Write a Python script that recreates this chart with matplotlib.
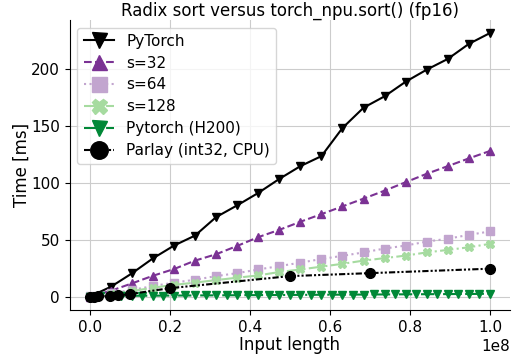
import numpy as np
import matplotlib
matplotlib.use("Agg")
import matplotlib.pyplot as plt

# input sizes
n_main = np.linspace(0, 1e8, 20)
n_h200 = np.linspace(0, 1e8, 39)
n_parlay = [1e5, 1e6, 2e6, 5e6, 7e6, 1e7, 2e7, 5e7, 7e7, 1e8]

# times in ms
t_pytorch = [0.3, 8.8, 20.6, 33.8, 45.0, 53.8, 70.0, 80.3, 91.2, 103.5,
             114.7, 123.5, 148.2, 166.0, 176.0, 188.8, 199.4, 208.8, 222.0, 231.5]
t_s32 = [0.3, 5.3, 11.8, 18.5, 24.4, 31.8, 37.4, 44.7, 52.4, 58.8,
         65.9, 72.6, 79.4, 86.2, 93.2, 100.6, 108.0, 114.7, 121.5, 128.0]
t_s64 = [0.4, 3.2, 6.0, 9.5, 12.5, 15.0, 18.2, 20.8, 24.0, 27.0,
         30.0, 33.2, 36.0, 39.0, 42.4, 45.0, 48.5, 51.0, 54.4, 57.4]
t_s128 = [0.4, 2.6, 5.0, 8.0, 10.5, 12.5, 14.7, 16.8, 18.8, 21.8,
          24.0, 26.5, 29.0, 31.8, 34.0, 36.2, 39.0, 41.2, 43.5, 46.5]
t_h200 = [0.3, 0.5, 0.7, 0.8, 0.9, 1.0, 1.0, 1.1, 1.1, 1.2,
          1.2, 1.3, 1.3, 1.4, 1.4, 1.5, 1.5, 1.6, 1.6, 1.7,
          1.7, 1.8, 1.8, 1.9, 1.9, 2.0, 2.0, 2.1, 2.1, 2.2,
          2.2, 2.3, 2.3, 2.4, 2.4, 2.5, 2.5, 2.6, 2.8]
t_parlay = [0.1, 0.3, 0.5, 0.8, 1.3, 2.4, 7.6, 18.2, 20.8, 24.7]

fig = plt.figure(figsize=(5.13, 3.55), dpi=100)
ax = fig.add_axes([0.136, 0.127, 0.858, 0.817])

ax.plot(n_main, t_pytorch, color='black', linestyle='-', marker='v', markersize=6, label='PyTorch')
ax.plot(n_main, t_s32, color='#7b3294', linestyle='--', marker='^', markersize=6, label='s=32')
ax.plot(n_main, t_s64, color='#c2a5cf', linestyle=':', marker='s', markersize=6, label='s=64')
ax.plot(n_main, t_s128, color='#a6dba0', linestyle='-.', marker='X', markersize=6, label='s=128')
ax.plot(n_h200, t_h200, color='#008837', linestyle='-.', marker='v', markersize=6, label='Pytorch (H200)')
ax.plot(n_parlay, t_parlay, color='black', linestyle=(0, (3, 1, 1, 1, 1, 1)), marker='o', markersize=7,
        label='Parlay (int32, CPU)')

ax.grid(True, color='#cccccc', linewidth=0.8)
ax.set_axisbelow(True)
ax.spines['top'].set_visible(False)
ax.spines['right'].set_visible(False)
ax.tick_params(labelsize=11)
ax.xaxis.get_offset_text().set_fontsize(11)
ax.set_xlabel('Input length', fontsize=12, labelpad=1)
ax.set_ylabel('Time [ms]', fontsize=12, labelpad=0)
ax.set_title('Radix sort versus torch_npu.sort() (fp16)', fontsize=12, pad=2)
ax.legend(loc='upper left', fontsize=11, markerscale=1.8, labelspacing=0.45)

fig.savefig('out.png', dpi=100)
